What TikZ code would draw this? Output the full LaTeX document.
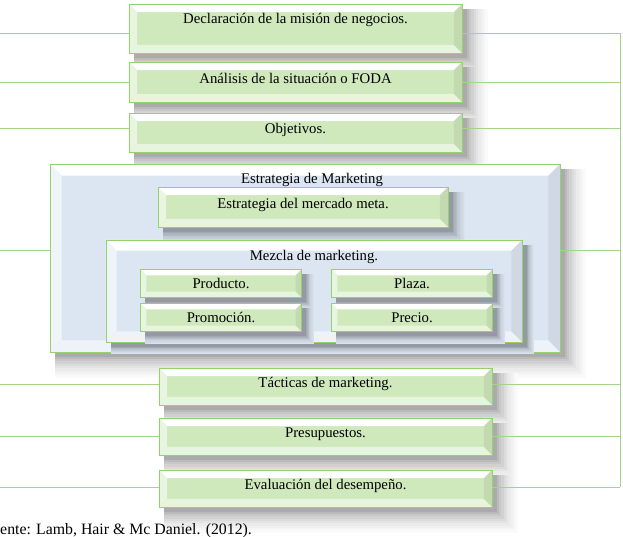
\documentclass[tikz,border=0pt]{standalone}
\usepackage{fontspec}
\setmainfont{Liberation Serif}
\usetikzlibrary{positioning,calc,backgrounds}
\definecolor{leaf}{HTML}{CFE8BC}
\definecolor{leafedge}{HTML}{94D270}
\definecolor{sky}{HTML}{DCE6F2}
\definecolor{wire}{HTML}{A3D48A}
\definecolor{spinegray}{HTML}{A6A6A6}

\tikzset{
  boxtext/.style={font=\fontsize{12.6}{14}\selectfont,inner sep=0pt,text height=8pt,text depth=6pt},
  wireline/.style={wire,line width=.8pt},
}

% what the shadow falls on, and how far it spreads
\newcommand\shadowbase{white}
\newcommand\shadowscale{1}

% bevelled box with soft shadow: [text opts] name, x, y, width (cm), height (cm), bevel, colour, text
\newcommand\stepbox[9][]{%
  \coordinate (#2c) at (#3,#4);
  \foreach \gr/\sval in {18/2,16/4,14/6,12/8,10/11,8/14,6/18,4/22,2/27,0/33}
    \fill[black!\sval!\shadowbase] ($(#2c)+({-0.5*#5cm+4pt},{-0.5*#6cm-4pt-\shadowscale*\gr pt})$) rectangle ($(#2c)+({0.5*#5cm+4pt+\shadowscale*\gr pt},{0.5*#6cm-4pt})$);
  \node[fill=#8,inner sep=0pt,outer sep=0pt,minimum width=#5cm,minimum height=#6cm] (#2) at (#2c) {};
  \fill[white] (#2.north west) -- (#2.north east) -- ([shift={(-#7,-#7)}]#2.north east) -- ([shift={(#7,-#7)}]#2.north west) -- cycle;
  \fill[white!55!#8] (#2.north west) -- ([shift={(#7,-#7)}]#2.north west) -- ([shift={(#7,#7)}]#2.south west) -- (#2.south west) -- cycle;
  \fill[white!50!#8] (#2.south west) -- ([shift={(#7,#7)}]#2.south west) -- ([shift={(-#7,#7)}]#2.south east) -- (#2.south east) -- cycle;
  \fill[black!6!#8] (#2.south east) -- ([shift={(-#7,#7)}]#2.south east) -- ([shift={(-#7,-#7)}]#2.north east) -- (#2.north east) -- cycle;
  \draw[leafedge,line width=.8pt] (#2.south west) rectangle (#2.north east);
  \node[boxtext,#1] (#2text) at (#2c) {#9};
}

\begin{document}
\begin{tikzpicture}[x=0.03cm,y=-0.03cm]
  \useasboundingbox (0,0) rectangle (623,536);

  % column of steps
  \stepbox[text depth=17pt]{decl}{295.5}{28.5}{9.99}{1.47}{7pt}{leaf}{Declaración de la misión de negocios.}
  \foreach \bname/\by/\bh/\btext in {
      foda/82/1.2/Análisis de la situación o FODA,
      obj/132.5/1.17/Objetivos.} {
    \stepbox{\bname}{295.5}{\by}{9.99}{\bh}{7pt}{leaf}{\btext}
  }

  % marketing strategy panel
  \stepbox{mkt}{305}{258}{15.3}{5.64}{10pt}{sky}{}
  \node[boxtext,text depth=1pt] (mkttitle) at (312,179) {Estrategia de Marketing};
  \renewcommand\shadowbase{sky}
  \renewcommand\shadowscale{.6}
  \stepbox{meta}{303}{207}{8.7}{1.2}{7pt}{leaf}{Estrategia del mercado meta.}
  \renewcommand\shadowscale{.35}
  \stepbox{mezcla}{314}{291}{12.48}{3.06}{9pt}{sky}{}
  \node[boxtext,text depth=1pt] (mezclatitle) at (314,256) {Mezcla de marketing.};
  \foreach \bname/\bx/\by/\btext in {
      prod/221/283.5/Producto.,
      prom/221/317.5/Promoción.,
      plaza/412/283.5/Plaza.,
      precio/412/317.5/Precio.} {
    \stepbox[text depth=0pt]{\bname}{\bx}{\by}{4.83}{0.84}{5pt}{leaf}{\btext}
  }
  \renewcommand\shadowbase{white}
  \renewcommand\shadowscale{1}

  \foreach \bname/\by/\btext in {
      tact/386.5/Tácticas de marketing.,
      pres/436.5/Presupuestos.,
      eval/488.5/Evaluación del desempeño.} {
    \stepbox{\bname}{325.5}{\by}{9.99}{1.11}{7pt}{leaf}{\btext}
  }

  % spine behind the boxes
  \coordinate (spx) at (313,0);
  \begin{scope}[on background layer]
    \draw[spinegray,line width=.8pt] (decl.south -| spx) -- (eval.north -| spx);
  \end{scope}

  % side connectors
  \foreach \bname/\cy in {decl/33,foda/82,obj/128,mkt/250,tact/384,pres/436,eval/487} {
    \coordinate (l\bname) at (0,\cy);
    \coordinate (r\bname) at (620,\cy);
    \draw[wireline] (l\bname) -- (l\bname -| \bname.west);
    \draw[wireline] (\bname.east |- r\bname) -- (r\bname);
  }
  \draw[wireline] (rdecl) -- (reval);

  \node[font=\fontsize{13.5}{15}\selectfont,anchor=base west,inner sep=0pt] (src) at (0,534) {ente: Lamb, Hair \& Mc Daniel. (2012).};
\end{tikzpicture}
\end{document}
